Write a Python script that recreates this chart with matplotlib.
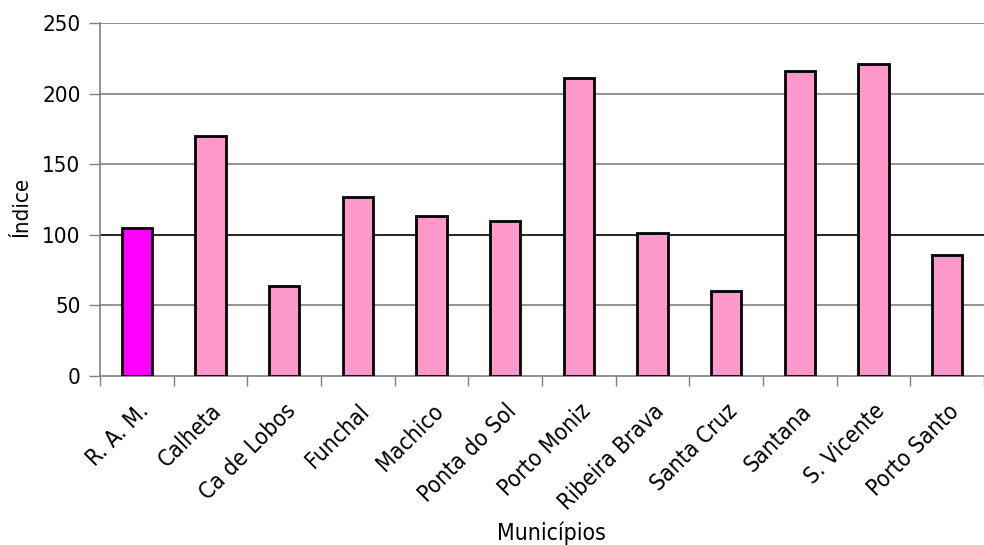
import matplotlib
matplotlib.use("Agg")
import matplotlib.pyplot as plt

categories = ["R. A. M.", "Calheta", "Ca de Lobos", "Funchal", "Machico", "Ponta do Sol",
              "Porto Moniz", "Ribeira Brava", "Santa Cruz", "Santana", "S. Vicente", "Porto Santo"]
values = [105, 170, 64, 127, 113, 110, 211, 101, 60, 216, 221, 86]
colors = ["#FF00FF"] + ["#FF99CC"] * 11
yticks = [0, 50, 100, 150, 200, 250]

plt.rcParams['font.family'] = ['DejaVu Sans']
plt.rcParams['font.stretch'] = 'condensed'
W, H = 984, 545
fig = plt.figure(figsize=(W / 100, H / 100), dpi=100)
ax = fig.add_axes([100 / W, 1 - 376 / H, 884 / W, 353 / H])

x = list(range(len(categories)))
ax.bar(x, values, width=0.41, color=colors, edgecolor="black", linewidth=2, zorder=3)
ax.set_xlim(-0.5, len(categories) - 0.5)
ax.set_ylim(0, 250)
ax.set_yticks(yticks)
for v in yticks[1:]:
    ax.axhline(v, color="black" if v == 100 else "#808080", linewidth=1.2, zorder=1)

ax.set_xticks([i - 0.5 for i in range(len(categories) + 1)], minor=False)
ax.set_xticklabels([])
ax.set_xticks(x, minor=True)
ax.set_xticklabels(categories, minor=True, rotation=45, ha="right", va="top",
                   rotation_mode="anchor", fontsize=16.5)
ax.tick_params(axis="x", which="minor", length=0, pad=17)
ax.tick_params(axis="x", which="major", length=7, width=1, color="#808080", direction="out")
ax.tick_params(axis="y", length=8, width=1, color="#808080", labelsize=16, pad=6)

for s in ["top", "right"]:
    ax.spines[s].set_visible(False)
for s in ["left", "bottom"]:
    ax.spines[s].set_color("#808080")
    ax.spines[s].set_linewidth(1.2)

fig.text(21 / W, 1 - 207 / H, "Índice", rotation=90, ha="center", va="center", fontsize=16)
fig.text(551 / W, 1 - 533 / H, "Municípios", ha="center", va="center", fontsize=16.5)

fig.savefig("out.png", dpi=100)
